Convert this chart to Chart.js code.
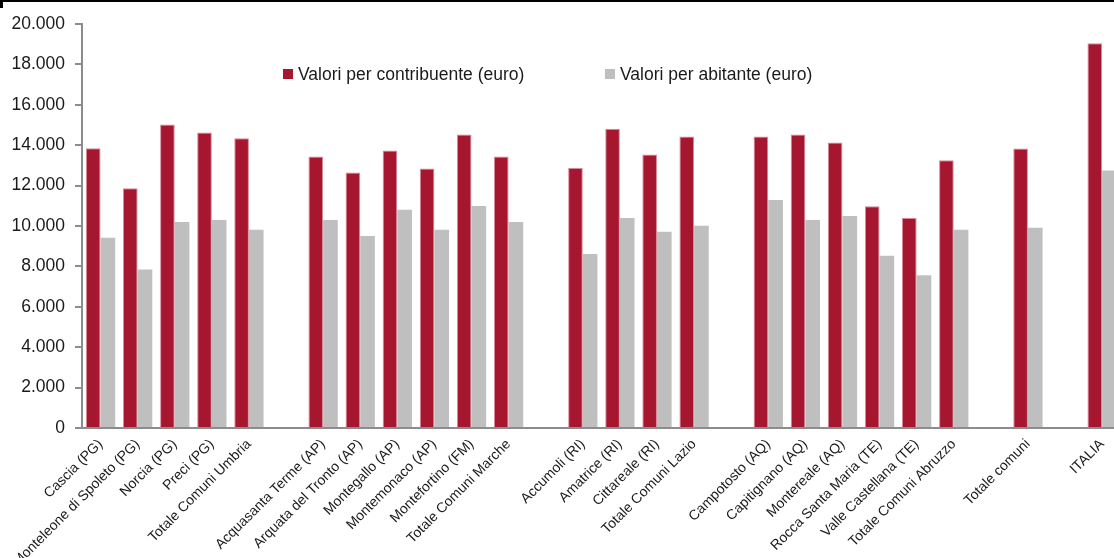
<!DOCTYPE html>
<html>
<head>
<meta charset="utf-8">
<script src="https://cdn.jsdelivr.net/npm/chart.js@4.4.1/dist/chart.umd.min.js"></script>
<style>
  html, body { margin: 0; padding: 0; background: #fff; overflow: hidden; width: 1114px; height: 558px; }
  #wrap { position: relative; width: 1122px; height: 558px; }
  #topline { position: absolute; left: 0; top: 0; width: 1114px; height: 2px; background: #000; }
  #corner { position: absolute; left: 0; top: 0; width: 3px; height: 8px; background: #000; }
  canvas { display: block; }
</style>
</head>
<body>
<div id="wrap">
  <canvas id="c" width="1122" height="558"></canvas>
  <div id="topline"></div>
  <div id="corner"></div>
</div>
<script>
const categories = [
  'Cascia (PG)', 'Monteleone di Spoleto (PG)', 'Norcia (PG)', 'Preci (PG)', 'Totale Comuni Umbria',
  '',
  'Acquasanta Terme (AP)', 'Arquata del Tronto (AP)', 'Montegallo (AP)', 'Montemonaco (AP)', 'Montefortino (FM)', 'Totale Comuni Marche',
  '',
  'Accumoli (RI)', 'Amatrice (RI)', 'Cittareale (RI)', 'Totale Comuni Lazio',
  '',
  'Campotosto (AQ)', 'Capitignano (AQ)', 'Montereale (AQ)', 'Rocca Santa Maria (TE)', 'Valle Castellana (TE)', 'Totale Comuni Abruzzo',
  '',
  'Totale comuni',
  '',
  'ITALIA'
];
const valoriPerContribuente = [
  13850, 11870, 15020, 14630, 14350,
  null,
  13440, 12650, 13740, 12850, 14530, 13440,
  null,
  12870, 14820, 13540, 14430,
  null,
  14430, 14530, 14130, 10980, 10390, 13250,
  null,
  13840,
  null,
  19050
];
const valoriPerAbitante = [
  9420, 7850, 10200, 10300, 9810,
  null,
  10300, 9510, 10800, 9810, 10990, 10200,
  null,
  8610, 10400, 9710, 10010,
  null,
  11290, 10300, 10500, 8530, 7560, 9810,
  null,
  9910,
  null,
  12750
];
const seriesNames = ['Valori per contribuente (euro)', 'Valori per abitante (euro)'];
const yTickValues = [0, 2000, 4000, 6000, 8000, 10000, 12000, 14000, 16000, 18000, 20000];
const yTickLabels = ['0', '2.000', '4.000', '6.000', '8.000', '10.000', '12.000', '14.000', '16.000', '18.000', '20.000'];

const FONT = "'Liberation Sans', Arial, sans-serif";
const RED = '#A6162F';
const GREY = '#BFBFBF';
const AXIS = '#8C8C8C';

const legendPlugin = {
  id: 'customLegend',
  afterDraw(chart) {
    const ctx = chart.ctx;
    const items = [
      { x: 283, text: chart.data.datasets[0].label, color: chart.data.datasets[0].backgroundColor },
      { x: 605, text: chart.data.datasets[1].label, color: chart.data.datasets[1].backgroundColor }
    ];
    ctx.save();
    ctx.font = "17.5px " + FONT;
    ctx.textBaseline = 'middle';
    ctx.textAlign = 'left';
    items.forEach(it => {
      ctx.fillStyle = it.color;
      ctx.fillRect(it.x, 69, 10, 10);
      ctx.fillStyle = '#1a1a1a';
      ctx.fillText(it.text, it.x + 15, 75);
    });
    ctx.restore();
  }
};

new Chart(document.getElementById('c'), {
  type: 'bar',
  data: {
    labels: categories,
    datasets: [
      { label: seriesNames[0], data: valoriPerContribuente, backgroundColor: RED, borderColor: '#D98A9A', borderWidth: { top: 1, left: 1, right: 1, bottom: 0 }, borderSkipped: 'bottom' },
      { label: seriesNames[1], data: valoriPerAbitante, backgroundColor: GREY, borderWidth: 0 }
    ]
  },
  options: {
    responsive: false,
    animation: false,
    layout: { padding: { top: 24, left: 0, right: 0, bottom: 0 } },
    datasets: { bar: { categoryPercentage: 0.79, barPercentage: 1.0 } },
    plugins: { legend: { display: false }, tooltip: { enabled: false } },
    scales: {
      x: {
        grid: { display: true, drawOnChartArea: false, drawTicks: false },
        border: { display: true, color: AXIS, width: 2 },
        ticks: {
          autoSkip: false, maxRotation: 45, minRotation: 45, padding: 8,
          color: '#1a1a1a', font: { family: FONT, size: 14 }
        },
        afterFit(scale) { scale.height = 130; }
      },
      y: {
        min: 0, max: 20000,
        afterBuildTicks(scale) { scale.ticks = yTickValues.map(v => ({ value: v })); },
        grid: { display: true, drawOnChartArea: false, drawTicks: true, tickLength: 7, color: AXIS, lineWidth: 2 },
        border: { display: true, color: AXIS, width: 2 },
        ticks: {
          padding: 10, color: '#1a1a1a', font: { family: FONT, size: 17.5 },
          callback(value) { const i = yTickValues.indexOf(value); return i >= 0 ? yTickLabels[i] : ''; }
        },
        afterFit(scale) { scale.width = 82; }
      }
    }
  },
  plugins: [legendPlugin]
});
</script>
</body>
</html>
